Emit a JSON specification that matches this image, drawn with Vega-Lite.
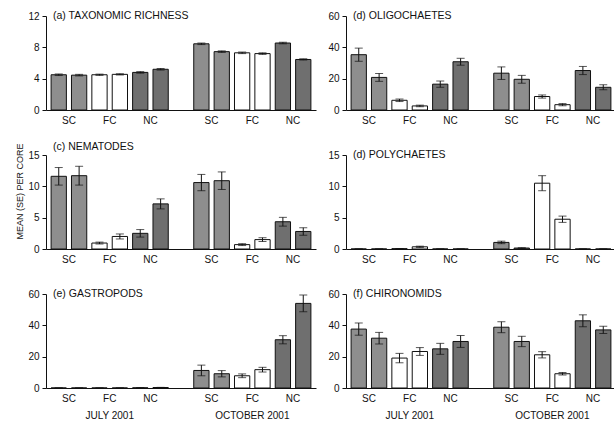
{
  "$schema": "https://vega.github.io/schema/vega-lite/v6.json",
  "padding": {"left": 15, "top": 10, "right": 0, "bottom": 0},
  "background": "white",
  "config": {
    "font": "Liberation Sans",
    "view": {"stroke": null},
    "axis": {"grid": false, "domainColor": "#111", "tickColor": "#111", "labelColor": "#111", "labelFontSize": 10, "titleColor": "#111"},
    "axisY": {"labelBound": false, "labelOverlap": false, "labelFlush": false},
    "title": {"fontSize": 10.5, "fontWeight": "normal", "color": "#111", "anchor": "start", "frame": "group"}
  },
  "datasets": {
    "d": [
      {"panel": "a", "bar": "Jul SC 1", "site": "SC", "mean": 4.5, "se": 0.1},
      {"panel": "a", "bar": "Jul SC 2", "site": "SC", "mean": 4.45, "se": 0.1},
      {"panel": "a", "bar": "Jul FC 1", "site": "FC", "mean": 4.5, "se": 0.08},
      {"panel": "a", "bar": "Jul FC 2", "site": "FC", "mean": 4.55, "se": 0.08},
      {"panel": "a", "bar": "Jul NC 1", "site": "NC", "mean": 4.8, "se": 0.1},
      {"panel": "a", "bar": "Jul NC 2", "site": "NC", "mean": 5.2, "se": 0.1},
      {"panel": "a", "bar": "Oct SC 1", "site": "SC", "mean": 8.45, "se": 0.1},
      {"panel": "a", "bar": "Oct SC 2", "site": "SC", "mean": 7.45, "se": 0.1},
      {"panel": "a", "bar": "Oct FC 1", "site": "FC", "mean": 7.3, "se": 0.1},
      {"panel": "a", "bar": "Oct FC 2", "site": "FC", "mean": 7.2, "se": 0.1},
      {"panel": "a", "bar": "Oct NC 1", "site": "NC", "mean": 8.55, "se": 0.1},
      {"panel": "a", "bar": "Oct NC 2", "site": "NC", "mean": 6.45, "se": 0.08},

      {"panel": "d", "bar": "Jul SC 1", "site": "SC", "mean": 35.3, "se": 4.2},
      {"panel": "d", "bar": "Jul SC 2", "site": "SC", "mean": 20.8, "se": 2.5},
      {"panel": "d", "bar": "Jul FC 1", "site": "FC", "mean": 6.2, "se": 0.8},
      {"panel": "d", "bar": "Jul FC 2", "site": "FC", "mean": 2.6, "se": 0.5},
      {"panel": "d", "bar": "Jul NC 1", "site": "NC", "mean": 16.5, "se": 2.0},
      {"panel": "d", "bar": "Jul NC 2", "site": "NC", "mean": 30.8, "se": 2.2},
      {"panel": "d", "bar": "Oct SC 1", "site": "SC", "mean": 23.5, "se": 4.0},
      {"panel": "d", "bar": "Oct SC 2", "site": "SC", "mean": 19.6, "se": 2.5},
      {"panel": "d", "bar": "Oct FC 1", "site": "FC", "mean": 8.6, "se": 1.0},
      {"panel": "d", "bar": "Oct FC 2", "site": "FC", "mean": 3.4, "se": 0.7},
      {"panel": "d", "bar": "Oct NC 1", "site": "NC", "mean": 25.2, "se": 2.6},
      {"panel": "d", "bar": "Oct NC 2", "site": "NC", "mean": 14.5, "se": 1.6},

      {"panel": "c", "bar": "Jul SC 1", "site": "SC", "mean": 11.6, "se": 1.4},
      {"panel": "c", "bar": "Jul SC 2", "site": "SC", "mean": 11.7, "se": 1.5},
      {"panel": "c", "bar": "Jul FC 1", "site": "FC", "mean": 0.95, "se": 0.15},
      {"panel": "c", "bar": "Jul FC 2", "site": "FC", "mean": 2.0, "se": 0.4},
      {"panel": "c", "bar": "Jul NC 1", "site": "NC", "mean": 2.5, "se": 0.6},
      {"panel": "c", "bar": "Jul NC 2", "site": "NC", "mean": 7.2, "se": 0.8},
      {"panel": "c", "bar": "Oct SC 1", "site": "SC", "mean": 10.6, "se": 1.3},
      {"panel": "c", "bar": "Oct SC 2", "site": "SC", "mean": 10.9, "se": 1.4},
      {"panel": "c", "bar": "Oct FC 1", "site": "FC", "mean": 0.7, "se": 0.15},
      {"panel": "c", "bar": "Oct FC 2", "site": "FC", "mean": 1.5, "se": 0.3},
      {"panel": "c", "bar": "Oct NC 1", "site": "NC", "mean": 4.35, "se": 0.7},
      {"panel": "c", "bar": "Oct NC 2", "site": "NC", "mean": 2.8, "se": 0.6},

      {"panel": "p", "bar": "Jul SC 1", "site": "SC", "mean": 0, "se": 0},
      {"panel": "p", "bar": "Jul SC 2", "site": "SC", "mean": 0, "se": 0},
      {"panel": "p", "bar": "Jul FC 1", "site": "FC", "mean": 0.05, "se": 0.02},
      {"panel": "p", "bar": "Jul FC 2", "site": "FC", "mean": 0.35, "se": 0.1},
      {"panel": "p", "bar": "Jul NC 1", "site": "NC", "mean": 0, "se": 0},
      {"panel": "p", "bar": "Jul NC 2", "site": "NC", "mean": 0, "se": 0},
      {"panel": "p", "bar": "Oct SC 1", "site": "SC", "mean": 1.05, "se": 0.2},
      {"panel": "p", "bar": "Oct SC 2", "site": "SC", "mean": 0.15, "se": 0.05},
      {"panel": "p", "bar": "Oct FC 1", "site": "FC", "mean": 10.5, "se": 1.2},
      {"panel": "p", "bar": "Oct FC 2", "site": "FC", "mean": 4.75, "se": 0.5},
      {"panel": "p", "bar": "Oct NC 1", "site": "NC", "mean": 0, "se": 0},
      {"panel": "p", "bar": "Oct NC 2", "site": "NC", "mean": 0, "se": 0},

      {"panel": "e", "bar": "Jul SC 1", "site": "SC", "mean": 0, "se": 0},
      {"panel": "e", "bar": "Jul SC 2", "site": "SC", "mean": 0, "se": 0},
      {"panel": "e", "bar": "Jul FC 1", "site": "FC", "mean": 0, "se": 0},
      {"panel": "e", "bar": "Jul FC 2", "site": "FC", "mean": 0, "se": 0},
      {"panel": "e", "bar": "Jul NC 1", "site": "NC", "mean": 0.1, "se": 0.05},
      {"panel": "e", "bar": "Jul NC 2", "site": "NC", "mean": 0.3, "se": 0.1},
      {"panel": "e", "bar": "Oct SC 1", "site": "SC", "mean": 11.2, "se": 3.4},
      {"panel": "e", "bar": "Oct SC 2", "site": "SC", "mean": 9.1, "se": 2.0},
      {"panel": "e", "bar": "Oct FC 1", "site": "FC", "mean": 7.8, "se": 1.2},
      {"panel": "e", "bar": "Oct FC 2", "site": "FC", "mean": 11.7, "se": 1.5},
      {"panel": "e", "bar": "Oct NC 1", "site": "NC", "mean": 30.8, "se": 2.6},
      {"panel": "e", "bar": "Oct NC 2", "site": "NC", "mean": 54.0, "se": 5.3},

      {"panel": "f", "bar": "Jul SC 1", "site": "SC", "mean": 37.6, "se": 3.9},
      {"panel": "f", "bar": "Jul SC 2", "site": "SC", "mean": 31.8, "se": 3.7},
      {"panel": "f", "bar": "Jul FC 1", "site": "FC", "mean": 19.1, "se": 3.0},
      {"panel": "f", "bar": "Jul FC 2", "site": "FC", "mean": 23.3, "se": 2.5},
      {"panel": "f", "bar": "Jul NC 1", "site": "NC", "mean": 25.0, "se": 3.5},
      {"panel": "f", "bar": "Jul NC 2", "site": "NC", "mean": 29.7, "se": 3.8},
      {"panel": "f", "bar": "Oct SC 1", "site": "SC", "mean": 38.8, "se": 3.5},
      {"panel": "f", "bar": "Oct SC 2", "site": "SC", "mean": 29.7, "se": 3.3},
      {"panel": "f", "bar": "Oct FC 1", "site": "FC", "mean": 21.2, "se": 2.0},
      {"panel": "f", "bar": "Oct FC 2", "site": "FC", "mean": 9.1, "se": 0.8},
      {"panel": "f", "bar": "Oct NC 1", "site": "NC", "mean": 42.9, "se": 3.8},
      {"panel": "f", "bar": "Oct NC 2", "site": "NC", "mean": 37.1, "se": 2.3}
    ]
  },
  "data": {"name": "d"},
  "columns": 2,
  "align": "each",
  "bounds": "flush",
  "spacing": {"row": 45, "column": 30},
  "concat": [
    {
      "width": 270, "height": 94,
      "title": {"text": "(a) TAXONOMIC RICHNESS", "offset": -10, "dx": 7},
      "transform": [{"filter": "datum.panel == 'a'"}],
      "encoding": {
        "x": {"field": "bar", "type": "nominal", "sort": null,
          "scale": {"domain": ["Jul SC 1","Jul SC 2","Jul FC 1","Jul FC 2","Jul NC 1","Jul NC 2","gap","Oct SC 1","Oct SC 2","Oct FC 1","Oct FC 2","Oct NC 1","Oct NC 2"], "paddingInner": 0.25, "paddingOuter": 0.25},
          "axis": {"title": null, "ticks": false, "labelOffset": 10.2, "labelAngle": 0, "labelPadding": 5, "labelOverlap": false, "labelExpr": "indexof(datum.value, ' 1') > 0 ? slice(datum.value, 4, 6) : ''"}},
        "y": {"field": "mean", "type": "quantitative", "scale": {"domain": [0, 12], "nice": false},
          "axis": {"title": null, "values": [0, 4, 8, 12], "tickSize": 4, "labelPadding": 3}}
      },
      "layer": [
        {"mark": {"type": "bar", "stroke": "#111", "strokeWidth": 1},
         "encoding": {"fill": {"field": "site", "type": "nominal", "scale": {"domain": ["SC","FC","NC"], "range": ["#8e8e8e","#ffffff","#6f6f6f"]}, "legend": null}}},
        {"mark": {"type": "errorbar", "color": "#111", "ticks": {"size": 8}},
         "encoding": {"yError": {"field": "se"}}}
      ]
    },
    {
      "width": 270, "height": 94,
      "title": {"text": "(d) OLIGOCHAETES", "offset": -10, "dx": 7},
      "transform": [{"filter": "datum.panel == 'd'"}],
      "encoding": {
        "x": {"field": "bar", "type": "nominal", "sort": null,
          "scale": {"domain": ["Jul SC 1","Jul SC 2","Jul FC 1","Jul FC 2","Jul NC 1","Jul NC 2","gap","Oct SC 1","Oct SC 2","Oct FC 1","Oct FC 2","Oct NC 1","Oct NC 2"], "paddingInner": 0.25, "paddingOuter": 0.25},
          "axis": {"title": null, "ticks": false, "labelOffset": 10.2, "labelAngle": 0, "labelPadding": 5, "labelOverlap": false, "labelExpr": "indexof(datum.value, ' 1') > 0 ? slice(datum.value, 4, 6) : ''"}},
        "y": {"field": "mean", "type": "quantitative", "scale": {"domain": [0, 60], "nice": false},
          "axis": {"title": null, "values": [0, 20, 40, 60], "tickSize": 4, "labelPadding": 3}}
      },
      "layer": [
        {"mark": {"type": "bar", "stroke": "#111", "strokeWidth": 1},
         "encoding": {"fill": {"field": "site", "type": "nominal", "scale": {"domain": ["SC","FC","NC"], "range": ["#8e8e8e","#ffffff","#6f6f6f"]}, "legend": null}}},
        {"mark": {"type": "errorbar", "color": "#111", "ticks": {"size": 8}},
         "encoding": {"yError": {"field": "se"}}}
      ]
    },
    {
      "width": 270, "height": 94,
      "title": {"text": "(c) NEMATODES", "offset": -10, "dx": 7},
      "transform": [{"filter": "datum.panel == 'c'"}],
      "encoding": {
        "x": {"field": "bar", "type": "nominal", "sort": null,
          "scale": {"domain": ["Jul SC 1","Jul SC 2","Jul FC 1","Jul FC 2","Jul NC 1","Jul NC 2","gap","Oct SC 1","Oct SC 2","Oct FC 1","Oct FC 2","Oct NC 1","Oct NC 2"], "paddingInner": 0.25, "paddingOuter": 0.25},
          "axis": {"title": null, "ticks": false, "labelOffset": 10.2, "labelAngle": 0, "labelPadding": 5, "labelOverlap": false, "labelExpr": "indexof(datum.value, ' 1') > 0 ? slice(datum.value, 4, 6) : ''"}},
        "y": {"field": "mean", "type": "quantitative", "scale": {"domain": [0, 15], "nice": false},
          "axis": {"title": "MEAN (SE) PER CORE", "titleFontSize": 9, "titleFontWeight": "normal", "titlePadding": 3, "titleY": 36, "values": [0, 5, 10, 15], "tickSize": 4, "labelPadding": 3}}
      },
      "layer": [
        {"mark": {"type": "bar", "stroke": "#111", "strokeWidth": 1},
         "encoding": {"fill": {"field": "site", "type": "nominal", "scale": {"domain": ["SC","FC","NC"], "range": ["#8e8e8e","#ffffff","#6f6f6f"]}, "legend": null}}},
        {"mark": {"type": "errorbar", "color": "#111", "ticks": {"size": 8}},
         "encoding": {"yError": {"field": "se"}}}
      ]
    },
    {
      "width": 270, "height": 94,
      "title": {"text": "(d) POLYCHAETES", "offset": -10, "dx": 7},
      "transform": [{"filter": "datum.panel == 'p'"}],
      "encoding": {
        "x": {"field": "bar", "type": "nominal", "sort": null,
          "scale": {"domain": ["Jul SC 1","Jul SC 2","Jul FC 1","Jul FC 2","Jul NC 1","Jul NC 2","gap","Oct SC 1","Oct SC 2","Oct FC 1","Oct FC 2","Oct NC 1","Oct NC 2"], "paddingInner": 0.25, "paddingOuter": 0.25},
          "axis": {"title": null, "ticks": false, "labelOffset": 10.2, "labelAngle": 0, "labelPadding": 5, "labelOverlap": false, "labelExpr": "indexof(datum.value, ' 1') > 0 ? slice(datum.value, 4, 6) : ''"}},
        "y": {"field": "mean", "type": "quantitative", "scale": {"domain": [0, 15], "nice": false},
          "axis": {"title": null, "values": [0, 5, 10, 15], "tickSize": 4, "labelPadding": 3}}
      },
      "layer": [
        {"mark": {"type": "bar", "stroke": "#111", "strokeWidth": 1},
         "encoding": {"fill": {"field": "site", "type": "nominal", "scale": {"domain": ["SC","FC","NC"], "range": ["#8e8e8e","#ffffff","#6f6f6f"]}, "legend": null}}},
        {"mark": {"type": "errorbar", "color": "#111", "ticks": {"size": 8}},
         "encoding": {"yError": {"field": "se"}}}
      ]
    },
    {
      "width": 270, "height": 94,
      "title": {"text": "(e) GASTROPODS", "offset": -10, "dx": 7},
      "transform": [{"filter": "datum.panel == 'e'"}],
      "encoding": {
        "x": {"field": "bar", "type": "nominal", "sort": null,
          "scale": {"domain": ["Jul SC 1","Jul SC 2","Jul FC 1","Jul FC 2","Jul NC 1","Jul NC 2","gap","Oct SC 1","Oct SC 2","Oct FC 1","Oct FC 2","Oct NC 1","Oct NC 2"], "paddingInner": 0.25, "paddingOuter": 0.25},
          "axis": {"title": null, "ticks": false, "labelOffset": 10.2, "labelAngle": 0, "labelPadding": 5, "labelOverlap": false, "labelLineHeight": 17, "labelExpr": "datum.value == 'Jul FC 1' ? ['FC', 'JULY 2001'] : datum.value == 'Oct FC 1' ? ['FC', 'OCTOBER 2001'] : indexof(datum.value, ' 1') > 0 ? slice(datum.value, 4, 6) : ''"}},
        "y": {"field": "mean", "type": "quantitative", "scale": {"domain": [0, 60], "nice": false},
          "axis": {"title": null, "values": [0, 20, 40, 60], "tickSize": 4, "labelPadding": 3}}
      },
      "layer": [
        {"mark": {"type": "bar", "stroke": "#111", "strokeWidth": 1},
         "encoding": {"fill": {"field": "site", "type": "nominal", "scale": {"domain": ["SC","FC","NC"], "range": ["#8e8e8e","#ffffff","#6f6f6f"]}, "legend": null}}},
        {"mark": {"type": "errorbar", "color": "#111", "ticks": {"size": 8}},
         "encoding": {"yError": {"field": "se"}}}
      ]
    },
    {
      "width": 270, "height": 94,
      "title": {"text": "(f) CHIRONOMIDS", "offset": -10, "dx": 7},
      "transform": [{"filter": "datum.panel == 'f'"}],
      "encoding": {
        "x": {"field": "bar", "type": "nominal", "sort": null,
          "scale": {"domain": ["Jul SC 1","Jul SC 2","Jul FC 1","Jul FC 2","Jul NC 1","Jul NC 2","gap","Oct SC 1","Oct SC 2","Oct FC 1","Oct FC 2","Oct NC 1","Oct NC 2"], "paddingInner": 0.25, "paddingOuter": 0.25},
          "axis": {"title": null, "ticks": false, "labelOffset": 10.2, "labelAngle": 0, "labelPadding": 5, "labelOverlap": false, "labelLineHeight": 17, "labelExpr": "datum.value == 'Jul FC 1' ? ['FC', 'JULY 2001'] : datum.value == 'Oct FC 1' ? ['FC', 'OCTOBER 2001'] : indexof(datum.value, ' 1') > 0 ? slice(datum.value, 4, 6) : ''"}},
        "y": {"field": "mean", "type": "quantitative", "scale": {"domain": [0, 60], "nice": false},
          "axis": {"title": null, "values": [0, 20, 40, 60], "tickSize": 4, "labelPadding": 3}}
      },
      "layer": [
        {"mark": {"type": "bar", "stroke": "#111", "strokeWidth": 1},
         "encoding": {"fill": {"field": "site", "type": "nominal", "scale": {"domain": ["SC","FC","NC"], "range": ["#8e8e8e","#ffffff","#6f6f6f"]}, "legend": null}}},
        {"mark": {"type": "errorbar", "color": "#111", "ticks": {"size": 8}},
         "encoding": {"yError": {"field": "se"}}}
      ]
    }
  ]
}
